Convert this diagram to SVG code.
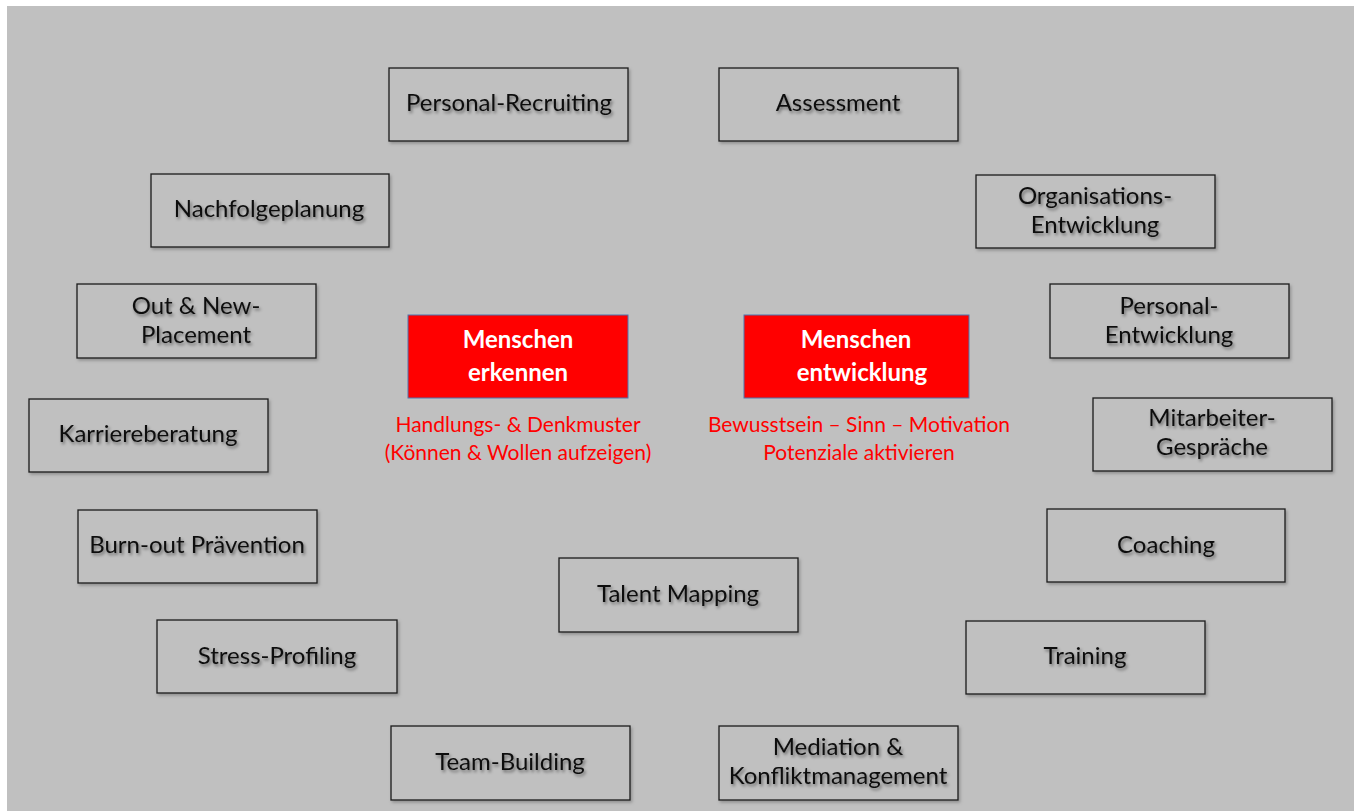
<svg xmlns="http://www.w3.org/2000/svg" width="1359" height="811" viewBox="0 0 1359 811">
  <defs>
    <filter id="txtShadow" x="-10%" y="-30%" width="120%" height="170%">
      <feDropShadow dx="1.5" dy="2.2" stdDeviation="1.8" flood-color="#000" flood-opacity="0.45"/>
    </filter>
    <filter id="boxShadow" x="-5%" y="-10%" width="110%" height="125%">
      <feDropShadow dx="1.5" dy="2" stdDeviation="1.5" flood-color="#000" flood-opacity="0.25"/>
    </filter>
    <style>
      .box { fill: #c0c0c0; stroke: #1a1a1a; stroke-width: 1.3; filter: url(#boxShadow); }
      .lbl { font-family: Lato, "Liberation Sans", sans-serif; font-size: 24px; fill: #111; text-anchor: middle; filter: url(#txtShadow); }
      .core { fill: #ff0000; stroke: #4f74ad; stroke-width: 1; }
      .core-lbl { font-family: Lato, "Liberation Sans", sans-serif; font-size: 24px; font-weight: bold; fill: #fff; text-anchor: middle; }
      .sub { font-family: Lato, "Liberation Sans", sans-serif; font-size: 21px; fill: #ff0000; text-anchor: middle; }
    </style>
  </defs>

  <!-- page -->
  <rect x="0" y="0" width="1359" height="811" fill="#ffffff"/>
  <rect x="7" y="6" width="1347" height="805" fill="#c0c0c0"/>

  <!-- centre: two focus areas -->
  <g id="menschen-erkennen">
    <rect class="core" x="408" y="315" width="220" height="83"/>
    <text class="core-lbl" x="518" y="348">Menschen</text>
    <text class="core-lbl" x="518" y="381">erkennen</text>
    <text class="sub" x="518" y="432">Handlungs- &amp; Denkmuster</text>
    <text class="sub" x="518" y="460">(Können &amp; Wollen aufzeigen)</text>
  </g>
  <g id="menschen-entwicklung">
    <rect class="core" x="744" y="315" width="225" height="83"/>
    <text class="core-lbl" x="856" y="348">Menschen</text>
    <text class="core-lbl" x="862" y="381">entwicklung</text>
    <text class="sub" x="859" y="432">Bewusstsein – Sinn – Motivation</text>
    <text class="sub" x="859" y="460">Potenziale aktivieren</text>
  </g>

  <!-- surrounding service boxes -->
  <g id="personal-recruiting">
    <rect class="box" x="389" y="68" width="239" height="73"/>
    <text class="lbl" x="509" y="111">Personal-Recruiting</text>
  </g>
  <g id="assessment">
    <rect class="box" x="719" y="68" width="239" height="73"/>
    <text class="lbl" x="838" y="111">Assessment</text>
  </g>
  <g id="nachfolgeplanung">
    <rect class="box" x="151" y="174" width="238" height="73"/>
    <text class="lbl" x="269" y="217">Nachfolgeplanung</text>
  </g>
  <g id="organisations-entwicklung">
    <rect class="box" x="976" y="175" width="239" height="73"/>
    <text class="lbl" x="1095" y="204">Organisations-</text>
    <text class="lbl" x="1095" y="233">Entwicklung</text>
  </g>
  <g id="out-new-placement">
    <rect class="box" x="77" y="284" width="239" height="74"/>
    <text class="lbl" x="196" y="314">Out &amp; New-</text>
    <text class="lbl" x="196" y="343">Placement</text>
  </g>
  <g id="personal-entwicklung">
    <rect class="box" x="1050" y="284" width="239" height="74"/>
    <text class="lbl" x="1169" y="314">Personal-</text>
    <text class="lbl" x="1169" y="343">Entwicklung</text>
  </g>
  <g id="karriereberatung">
    <rect class="box" x="29" y="399" width="239" height="73"/>
    <text class="lbl" x="148" y="442">Karriereberatung</text>
  </g>
  <g id="mitarbeiter-gespraeche">
    <rect class="box" x="1093" y="398" width="239" height="73"/>
    <text class="lbl" x="1212" y="426">Mitarbeiter-</text>
    <text class="lbl" x="1212" y="455">Gespräche</text>
  </g>
  <g id="burnout-praevention">
    <rect class="box" x="78" y="510" width="239" height="73"/>
    <text class="lbl" x="197" y="553">Burn-out Prävention</text>
  </g>
  <g id="coaching">
    <rect class="box" x="1047" y="509" width="238" height="73"/>
    <text class="lbl" x="1166" y="553">Coaching</text>
  </g>
  <g id="talent-mapping">
    <rect class="box" x="559" y="558" width="239" height="74"/>
    <text class="lbl" x="678" y="602">Talent Mapping</text>
  </g>
  <g id="stress-profiling">
    <rect class="box" x="157" y="620" width="240" height="73"/>
    <text class="lbl" x="277" y="664">Stress-Profiling</text>
  </g>
  <g id="training">
    <rect class="box" x="966" y="621" width="239" height="73"/>
    <text class="lbl" x="1085" y="664">Training</text>
  </g>
  <g id="team-building">
    <rect class="box" x="391" y="726" width="239" height="74"/>
    <text class="lbl" x="510" y="770">Team-Building</text>
  </g>
  <g id="mediation">
    <rect class="box" x="719" y="726" width="239" height="74"/>
    <text class="lbl" x="838" y="755">Mediation &amp;</text>
    <text class="lbl" x="838" y="784">Konfliktmanagement</text>
  </g>
</svg>
